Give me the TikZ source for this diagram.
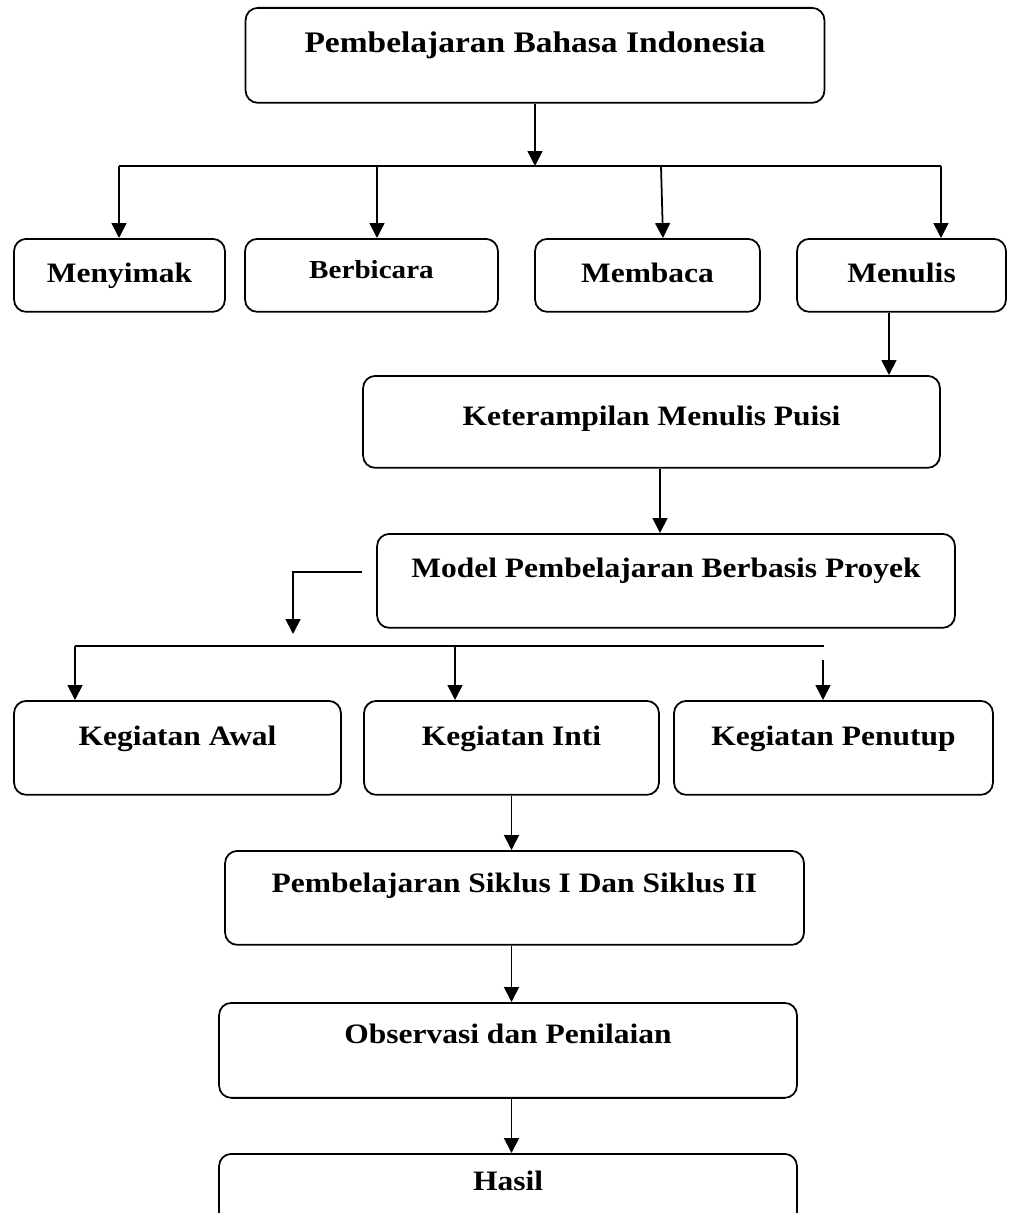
\documentclass[tikz,border=0pt]{standalone}
\usepackage{fontspec}
\setmainfont{Liberation Serif}[FakeStretch=1.12]
\usetikzlibrary{arrows.meta}
\tikzset{
  flow node/.style={
    draw, rounded corners=7pt, line width=1pt, inner sep=0pt,
    anchor=north, font=\bfseries\fontsize{16}{19}\selectfont
  },
  flow arrow/.style={-{Triangle[width=8.5pt,length=8.5pt]}, line width=1pt},
  flow line/.style={line width=1pt}
}

\begin{document}
\begin{tikzpicture}[x=0.02cm, y=-0.02cm]
    \useasboundingbox (0,0) rectangle (1008,1213);
    \node[flow node, minimum width=11.58cm, text height=0.9cm, text depth=1.0cm, font=\bfseries\fontsize{17}{20}\selectfont] (bahasa) at (535,7) {Pembelajaran Bahasa Indonesia};
    \node[flow node, minimum width=4.22cm, text height=0.88cm, text depth=0.58cm] (menyimak) at (119.5,238) {Menyimak};
    \node[flow node, minimum width=5.06cm, text height=0.8cm, text depth=0.66cm, font=\bfseries\fontsize{14.8}{18}\selectfont] (berbicara) at (371.5,238) {Berbicara};
    \node[flow node, minimum width=4.5cm, text height=0.88cm, text depth=0.58cm] (membaca) at (647.5,238) {Membaca};
    \node[flow node, minimum width=4.18cm, text height=0.88cm, text depth=0.58cm] (menulis) at (901.5,238) {Menulis};
    \node[flow node, minimum width=11.54cm, text height=1.0cm, text depth=0.84cm] (keterampilan) at (651.5,375) {Keterampilan Menulis Puisi};
    \node[flow node, minimum width=11.56cm, text height=0.88cm, text depth=1.0cm] (model) at (666,533) {Model Pembelajaran Berbasis Proyek};
    \node[flow node, minimum width=6.54cm, text height=0.9cm, text depth=0.98cm] (awal) at (177.5,700) {Kegiatan Awal};
    \node[flow node, minimum width=5.9cm, text height=0.9cm, text depth=0.98cm] (inti) at (511.5,700) {Kegiatan Inti};
    \node[flow node, minimum width=6.38cm, text height=0.9cm, text depth=0.98cm] (penutup) at (833.5,700) {Kegiatan Penutup};
    \node[flow node, minimum width=11.58cm, text height=0.84cm, text depth=1.04cm] (siklus) at (514.5,850) {Pembelajaran Siklus I Dan Siklus II};
    \node[flow node, minimum width=11.56cm, text height=0.82cm, text depth=1.08cm] (observasi) at (508,1002) {Observasi dan Penilaian};
    \node[flow node, minimum width=11.56cm, text height=0.74cm, text depth=1.0cm] (hasil) at (508,1153) {Hasil};

    % four skills
    \coordinate (hub) at (535,166);
    \coordinate (hubL) at (119,166);
    \coordinate (hubR) at (941,166);
    \draw[flow arrow] (bahasa) -- (hub);
    \draw[flow line] (hubL) -- (hubR);
    \foreach \x/\n in {119/menyimak, 377/berbicara, 941/menulis}
        \draw[flow arrow] (\x,166) -- (\n.north -| \x,166);
    \draw[flow arrow] (661,166) -- (membaca.north -| 663,166);

    \draw[flow arrow] ([xshift=-0.25cm]menulis.south) -- ([xshift=-0.25cm]menulis.south |- keterampilan.north);
    \draw[flow arrow] ([xshift=0.17cm]keterampilan.south) -- ([xshift=0.17cm]keterampilan.south |- model.north);

    % kegiatan
    \coordinate (drop) at (293,634);
    \draw[flow arrow] ([xshift=-0.28cm,yshift=0.18cm]model.west) -| (drop);
    \coordinate (hubA) at (75,646);
    \coordinate (hubB) at (824,646);
    \draw[flow line] (hubA) -- (hubB);
    \draw[flow arrow] (hubA) -- (hubA |- awal.north);
    \draw[flow arrow] (455,646) -- (inti.north -| 455,646);
    \draw[flow arrow] (823,660) -- (penutup.north -| 823,660);

    \draw[flow arrow] (inti.south) -- (inti.south |- siklus.north);
    \draw[flow arrow] (siklus.south -| inti) -- (inti |- observasi.north);
    \draw[flow arrow] (observasi.south -| inti) -- (inti |- hasil.north);
\end{tikzpicture}
\end{document}
